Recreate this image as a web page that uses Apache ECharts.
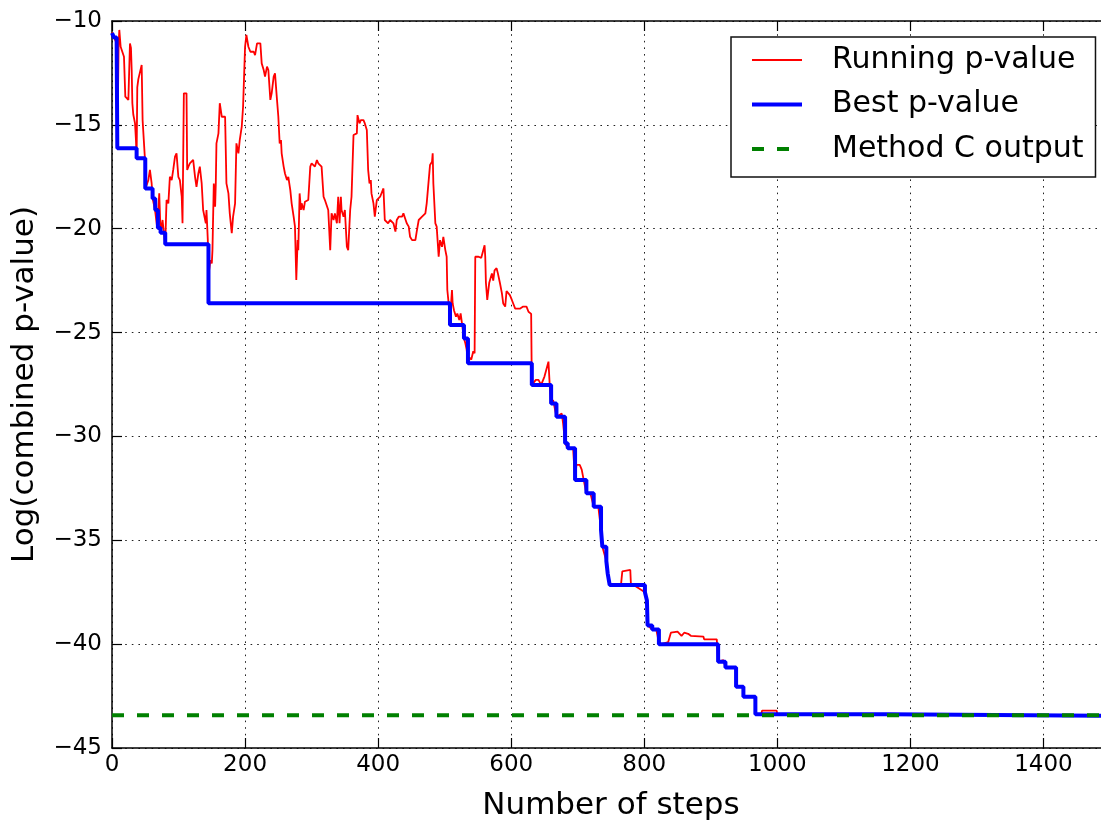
<!DOCTYPE html>
<html>
<head>
<meta charset="utf-8">
<script src="https://cdn.jsdelivr.net/npm/echarts@6/dist/echarts.min.js"></script>
<style>
  html, body { margin: 0; padding: 0; background: #fff; }
  #chart { width: 1101px; height: 826px; }
</style>
</head>
<body>
<div id="chart"></div>
<script>
// Running p-value of the search, as (step, log p) pairs
const runningSteps = [0,2,4.5,7,8,10,11,13,16,18,20,24.6,26,27,28.5,29.6,30.6,32,34.6,36,37,38,39.6,42,44.6,46,48,49.6,50,52,54.6,57,59.6,61,64.7,68,71,73,76,78,80,82,84.7,87,89.7,92,94.7,97,99.7,102,104.8,106,108,109.8,112,113,114.8,117,119.8,122,124.8,127,129.8,132,134.8,137,139.8,141,142,144,145,146,148,150,151,153,155,156,157,160,162,165,167,170,172,175,177,180,182,185,187,190,192,195,197,200,202,205,208,210,213,215,218,220,223,225,228,230,233,235,238,240,243,245,248,250,252,254,255,258,260,263,265,268,270,273,275,277,279,280,282,284,285,288,290,293,295,298,300,303,305,308,310,313,315,318,320,323,325,328,330,333,335,338,340,342,344,345,348,350,353,355,358,360,363,365,368,369,372,374,378,380,383,385,387,389,390,393,395,398,400,403,405,408,410,413,415,418,420,423,426,428,431,433,436,438,441,443,446,448,451,453,456,458,461,463,466,468,471,473,476,478,481,482,483,486,488,491,493,496,498,501,503,504,506,508,510,511,512,514,517,519,522,524,527,529,531,533,535,537,540,543,545,546,548,551,555,558,560,561,562,564,567,569,571,573,575,578,580,583,586,588,591,593,596,598,601,603,606,613,618,623,626,630,631,633,637,641,645,650,653,656,658,660,663,666,668,676,678,681,685,693,696,698,703,706,709,713,719,724,731,735,737,743,745,748,765,767,769,779,780,784,801,804,805,812,818,820,822,826,836,840,850,856,860,866,870,889,890,909,911,919,921,922,937,938,948,949,966,967,976,977,999,1000,1166,1167,1500];
const runningLogP = [-10.55,-10.59,-10.9,-11.08,-16.13,-11.1,-10.43,-11.24,-11.24,-11.72,-13.64,-13.8,-13.72,-11.08,-11.3,-12.36,-13.96,-14.5,-14.93,-15.73,-16.61,-13.2,-12.8,-12.84,-12.12,-14.77,-14.77,-16.69,-18.06,-17.9,-17.66,-17.17,-17.82,-18.54,-19.1,-19.97,-18.3,-20.2,-19.58,-20.22,-20.75,-18.62,-18.78,-17.5,-17.66,-17.17,-16.53,-16.37,-17.5,-17.66,-18.46,-19.74,-13.48,-13.4,-13.48,-17.17,-17.01,-16.85,-16.77,-16.69,-17.5,-17.98,-17.34,-17.01,-17.82,-19.1,-19.1,-19.74,-19.1,-20.55,-23.59,-22.0,-21.51,-21.67,-21.03,-17.82,-18.94,-17.82,-15.89,-15.41,-13.96,-14.61,-14.53,-14.61,-17.82,-18.3,-19.26,-20.22,-19.42,-18.78,-15.89,-16.37,-15.73,-15.09,-14.13,-11.24,-10.67,-11.24,-11.48,-11.4,-11.48,-11.64,-11.08,-11.0,-11.08,-12.04,-12.36,-12.68,-12.2,-12.36,-13.8,-13.48,-12.68,-12.52,-13.8,-14.61,-15.89,-15.73,-16.37,-17.01,-17.34,-17.66,-17.5,-18.14,-18.78,-19.42,-19.9,-22.47,-20.55,-21.03,-18.3,-19.1,-18.78,-19.1,-18.7,-18.62,-18.62,-17.01,-16.85,-16.93,-17.01,-16.69,-16.85,-16.93,-17.01,-18.46,-18.62,-18.7,-19.1,-21.03,-19.26,-19.58,-19.26,-19.74,-18.46,-19.74,-18.46,-19.1,-19.42,-19.1,-20.87,-21.03,-19.1,-18.46,-15.49,-15.57,-15.41,-14.53,-14.93,-14.77,-14.77,-14.93,-15.25,-17.17,-17.82,-17.66,-18.3,-18.78,-19.42,-18.62,-18.54,-18.46,-18.46,-18.06,-19.58,-19.66,-19.74,-19.58,-19.66,-19.74,-20.14,-19.58,-19.42,-19.34,-19.42,-19.26,-19.34,-19.74,-19.9,-20.39,-20.55,-20.63,-20.55,-20.14,-19.58,-19.5,-19.42,-19.34,-19.26,-18.78,-18.78,-16.93,-16.77,-16.37,-17.82,-19.74,-19.9,-21.35,-20.55,-20.87,-20.39,-21.03,-21.35,-22.95,-23.6,-24.64,-23.43,-22.95,-23.6,-23.92,-24.24,-24.08,-24.4,-24.08,-24.08,-25.28,-25.5,-25.8,-26.48,-26.2,-26.3,-25.9,-26.0,-21.35,-21.4,-21.35,-21.4,-21.35,-20.8,-21.35,-22.6,-23.43,-22.6,-22.6,-22.15,-22.5,-22.0,-21.9,-22.15,-22.6,-23.1,-23.6,-23.75,-23.0,-22.95,-23.2,-23.43,-23.6,-23.85,-23.85,-23.75,-23.75,-24.0,-24.1,-27.52,-27.52,-27.28,-27.28,-27.52,-27.12,-27.12,-26.4,-27.6,-28.41,-28.25,-28.25,-29.05,-28.9,-29.37,-30.33,-30.57,-30.57,-32.1,-31.37,-31.37,-31.6,-32.1,-32.74,-32.74,-33.38,-33.4,-34.5,-35.31,-36.0,-36.59,-37.15,-37.15,-36.5,-36.43,-36.43,-37.15,-37.15,-37.5,-37.9,-39.1,-39.3,-39.3,-39.6,-40.01,-40.0,-39.9,-39.45,-39.4,-39.6,-39.45,-39.5,-39.6,-39.64,-39.77,-39.77,-40.85,-40.77,-40.77,-41.12,-41.12,-42.05,-42.05,-42.53,-42.53,-43.37,-43.37,-43.2,-43.2,-43.37,-43.37,-43.45,-43.45];

// Best p-value found so far: each entry is the step where a new best appears
const bestSteps = [0,3,7,8,37,50,61,65,69,73,80,145,508,529,535,631,660,668,681,685,696,713,724,735,737,743,745,748,801,804,805,812,822,911,922,938,949,967,1167,1500];
const bestLogP = [-10.58,-10.8,-11.07,-16.13,-16.61,-18.06,-18.54,-19.1,-19.97,-20.2,-20.75,-23.59,-24.64,-25.28,-26.48,-27.52,-28.41,-29.05,-30.33,-30.57,-32.1,-32.74,-33.38,-34.5,-35.31,-36.0,-36.59,-37.15,-37.5,-37.9,-39.1,-39.3,-40.01,-40.85,-41.12,-42.05,-42.53,-43.37,-43.45,-43.45];

// Reference level reported by Method C
const methodCLogP = -43.42;
const methodCSpan = [0, 1500];

const seriesNames = ['Running p-value', 'Best p-value', 'Method C output'];

const FONT = 'DejaVu Sans';
const minus = v => String(v).replace('-', '\u2212');

const zip = (xs, ys) => xs.map((x, i) => [x, ys[i]]);

const RED = '#ff0000', BLUE = '#0000ff', GREEN = '#008000';
const runningLine = { color: RED, width: 1.8 };
const bestLine = { color: BLUE, width: 4 };
const methodCLine = { color: GREEN, width: 4, type: [12, 13] };

const gridLine = { show: true, lineStyle: { color: '#222', width: 1, type: [1.6, 5] } };
const spine = { show: true, onZero: false, lineStyle: { color: '#000', width: 1.5 } };
const innerTick = { show: true, inside: true, length: 10, lineStyle: { color: '#000', width: 1.2 } };

const chart = echarts.init(document.getElementById('chart'), null, { renderer: 'canvas' });
chart.setOption({
  animation: false,
  backgroundColor: '#fff',
  grid: { left: 112, top: 21, right: -9, bottom: 78, containLabel: false, outerBoundsMode: 'none' },
  legend: {
    orient: 'vertical',
    left: 731,
    top: 37,
    padding: [1, 12, 6, 19],
    itemGap: 0.5,
    itemWidth: 50,
    itemHeight: 14,
    backgroundColor: '#fff',
    borderColor: '#111',
    borderWidth: 1.5,
    borderRadius: 0,
    selectedMode: false,
    itemStyle: { opacity: 0 },
    data: [
      { name: seriesNames[0], lineStyle: runningLine },
      { name: seriesNames[1], lineStyle: bestLine },
      { name: seriesNames[2], lineStyle: methodCLine }
    ],
    textStyle: {
      fontFamily: FONT, fontSize: 30, color: '#000',
      lineHeight: 44, padding: [0, 0, 0, 25]
    }
  },
  xAxis: [
    {
      type: 'value', min: 0, max: 1500, interval: 200,
      name: 'Number of steps', nameLocation: 'middle', nameGap: 42,
      nameTextStyle: { fontFamily: FONT, fontSize: 31, color: '#000' },
      axisLine: spine,
      axisTick: innerTick,
      axisLabel: {
        fontFamily: FONT, fontSize: 23, color: '#000', margin: 6,
        formatter: v => (v > 1400 ? '' : minus(v))
      },
      splitLine: gridLine
    },
    {
      type: 'value', position: 'top', min: 0, max: 1500, interval: 200,
      axisLine: spine,
      axisTick: innerTick,
      axisLabel: { show: false },
      splitLine: { show: false }
    }
  ],
  yAxis: {
    type: 'value', min: -45, max: -10, interval: 5,
    name: 'Log(combined p-value)', nameLocation: 'middle', nameGap: 72,
    nameTextStyle: { fontFamily: FONT, fontSize: 31, color: '#000' },
    axisLine: spine,
    axisTick: innerTick,
    axisLabel: { fontFamily: FONT, fontSize: 23, color: '#000', margin: 10, formatter: minus },
    splitLine: gridLine
  },
  series: [
    {
      name: seriesNames[0], type: 'line', xAxisIndex: 0,
      data: zip(runningSteps, runningLogP),
      showSymbol: false, symbol: 'none',
      lineStyle: runningLine,
      itemStyle: { color: RED },
      z: 2
    },
    {
      name: seriesNames[1], type: 'line', xAxisIndex: 0,
      data: zip(bestSteps, bestLogP),
      step: 'end',
      showSymbol: false, symbol: 'none',
      lineStyle: bestLine,
      itemStyle: { color: BLUE },
      z: 3
    },
    {
      name: seriesNames[2], type: 'line', xAxisIndex: 0,
      data: methodCSpan.map(x => [x, methodCLogP]),
      showSymbol: false, symbol: 'none',
      lineStyle: methodCLine,
      itemStyle: { color: GREEN },
      z: 4
    }
  ]
});
</script>
</body>
</html>
